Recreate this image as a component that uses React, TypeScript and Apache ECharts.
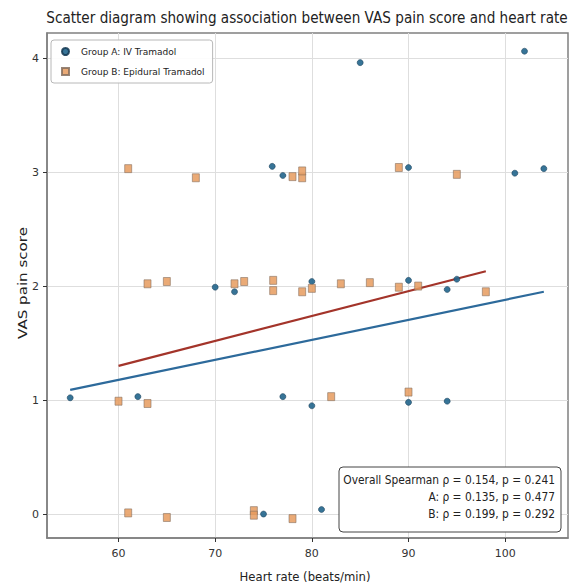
import React, { useEffect, useRef } from "react";
import * as echarts from "echarts";

const TITLE = "Scatter diagram showing association between VAS pain score and heart rate";
const X_NAME = "Heart rate (beats/min)";
const Y_NAME = "VAS pain score";
const NAME_A = "Group A: IV Tramadol";
const NAME_B = "Group B: Epidural Tramadol";
const STATS_LINES = [
  "Overall Spearman ρ = 0.154, p = 0.241",
  "A: ρ = 0.135, p = 0.477",
  "B: ρ = 0.199, p = 0.292",
];

const X_TICKS = [60, 70, 80, 90, 100];
const Y_TICKS = [0, 1, 2, 3, 4];

// Group A: IV Tramadol  [heart rate, VAS (jittered)]
const GROUP_A: [number, number][] = [
  [85.0, 3.96], [102.0, 4.06],
  [75.9, 3.05], [77.0, 2.97], [90.0, 3.04], [101.0, 2.99], [104.0, 3.03],
  [70.0, 1.99], [72.0, 1.95], [80.0, 2.04], [90.0, 2.05], [94.0, 1.97], [95.0, 2.06],
  [55.0, 1.02], [62.0, 1.03], [77.0, 1.03], [80.0, 0.95], [90.0, 0.98], [94.0, 0.99],
  [75.0, 0.0], [81.0, 0.04],
];

// Group B: Epidural Tramadol
const GROUP_B: [number, number][] = [
  [61.0, 3.03], [68.0, 2.95], [78.0, 2.96], [79.0, 2.95], [79.0, 3.01], [89.0, 3.04], [95.0, 2.98],
  [63.0, 2.02], [65.0, 2.04], [72.0, 2.02], [73.0, 2.04], [76.0, 2.05], [76.0, 1.96], [79.0, 1.95],
  [80.0, 1.98], [83.0, 2.02], [86.0, 2.03], [89.0, 1.99], [91.0, 2.0], [98.0, 1.95],
  [60.0, 0.99], [63.0, 0.97], [82.0, 1.03], [90.0, 1.07],
  [61.0, 0.01], [65.0, -0.03], [74.0, 0.03], [74.0, -0.01], [78.0, -0.04],
];

// Regression lines (endpoints)
const FIT_A: [number, number][] = [[55, 1.09], [104, 1.95]];
const FIT_B: [number, number][] = [[60, 1.3], [98, 2.13]];

const FONT = "DejaVu Sans";

function fitScale(text: string, size: number, target: number): number {
  try {
    const ctx = document.createElement("canvas").getContext("2d");
    if (!ctx) return 1;
    ctx.font = `${size}px "${FONT}"`;
    const w = ctx.measureText(text).width;
    if (!w) return 1;
    return Math.max(0.5, Math.min(1.3, target / w));
  } catch (e) {
    return 1;
  }
}

export default function App() {
  const ref = useRef<HTMLDivElement>(null);

  useEffect(() => {
    if (!ref.current) return;
    const chart = echarts.init(ref.current, undefined, { renderer: "svg" });

    const titleScale = fitScale(TITLE, 15, 522);
    const xNameScale = fitScale(X_NAME, 12.5, 131);
    const yNameScale = fitScale(Y_NAME, 13, 112);
    const statScale = fitScale(STATS_LINES[0], 12, 212);

    const textEl = (
      text: string,
      x: number,
      y: number,
      size: number,
      sx: number,
      align: string,
      rotation = 0,
      fill = "#222"
    ) => ({
      type: "text",
      x,
      y,
      rotation,
      scaleX: sx,
      z: 100,
      style: {
        text,
        fontSize: size,
        fontFamily: FONT,
        fill,
        align,
        verticalAlign: "middle",
        textAlign: align,
        textVerticalAlign: "middle",
      },
    });

    chart.setOption({
      animation: false,
      backgroundColor: "#ffffff",
      grid: {
        left: 47,
        right: 7,
        top: 33,
        bottom: 46,
        show: true,
        borderColor: "#808080",
        borderWidth: 1.5,
        backgroundColor: "transparent",
      },
      legend: {
        data: [
          { name: NAME_A, icon: "circle" },
          { name: NAME_B, icon: "rect" },
        ],
        orient: "vertical",
        left: 51,
        top: 40,
        padding: [7, 8, 7, 10],
        itemGap: 11,
        itemWidth: 7,
        itemHeight: 7,
        backgroundColor: "rgba(255,255,255,0.9)",
        borderColor: "#b8b8b8",
        borderWidth: 1,
        borderRadius: 3,
        textStyle: { fontSize: 9, fontFamily: FONT, color: "#222", padding: [0, 0, 0, 7] },
      },
      xAxis: {
        type: "value",
        min: 52.6,
        max: 106.5,
        splitNumber: 5,
        axisLine: { show: true, onZero: false, lineStyle: { color: "#808080", width: 1.5 } },
        axisTick: {
          show: true,
          inside: false,
          length: 4,
          customValues: X_TICKS,
          lineStyle: { color: "#333" },
        },
        axisLabel: {
          customValues: X_TICKS,
          fontSize: 11,
          fontFamily: FONT,
          color: "#333",
          margin: 10,
        },
        splitLine: { show: true, lineStyle: { color: "#dedede", width: 1 } },
      },
      yAxis: {
        type: "value",
        min: -0.21,
        max: 4.22,
        splitNumber: 4,
        axisLine: { show: true, onZero: false, lineStyle: { color: "#808080", width: 1.5 } },
        axisTick: {
          show: true,
          inside: false,
          length: 4,
          customValues: Y_TICKS,
          lineStyle: { color: "#333" },
        },
        axisLabel: {
          customValues: Y_TICKS,
          fontSize: 11,
          fontFamily: FONT,
          color: "#333",
          margin: 8,
        },
        splitLine: { show: true, lineStyle: { color: "#dedede", width: 1 } },
      },
      series: [
        {
          name: NAME_A,
          type: "scatter",
          symbol: "circle",
          symbolSize: 6,
          data: GROUP_A,
          z: 3,
          itemStyle: {
            color: "#21658c",
            borderColor: "#173c55",
            borderWidth: 0.6,
            opacity: 0.9,
          },
        },
        {
          name: NAME_B,
          type: "scatter",
          symbol: "rect",
          symbolSize: [7, 8],
          data: GROUP_B,
          z: 3,
          itemStyle: {
            color: "#e69b5e",
            borderColor: "#86705f",
            borderWidth: 0.7,
            opacity: 0.85,
          },
        },
        {
          name: "fitA",
          type: "line",
          data: FIT_A,
          symbol: "none",
          showSymbol: false,
          z: 2,
          lineStyle: { color: "#2d6a9b", width: 2.2 },
        },
        {
          name: "fitB",
          type: "line",
          data: FIT_B,
          symbol: "none",
          showSymbol: false,
          z: 2,
          lineStyle: { color: "#a3342a", width: 2.2 },
        },
      ],
      graphic: [
        textEl(TITLE, 307, 18, 15, titleScale, "center"),
        textEl(X_NAME, 305, 577, 12.5, xNameScale, "center"),
        textEl(Y_NAME, 22, 283, 13, yNameScale, "center", Math.PI / 2),
        {
          type: "rect",
          z: 90,
          shape: { x: 339, y: 467, width: 222, height: 65, r: 4 },
          style: { fill: "#ffffff", stroke: "#444", lineWidth: 1 },
        },
        textEl(STATS_LINES[0], 555, 480, 12, statScale, "right"),
        textEl(STATS_LINES[1], 555, 497, 12, statScale, "right"),
        textEl(STATS_LINES[2], 555, 514, 12, statScale, "right"),
      ],
    });

    return () => {
      chart.dispose();
    };
  }, []);

  return (
    <div
      ref={ref}
      style={{ position: "absolute", left: 0, top: 0, width: 575, height: 584, background: "#fff" }}
    />
  );
}
